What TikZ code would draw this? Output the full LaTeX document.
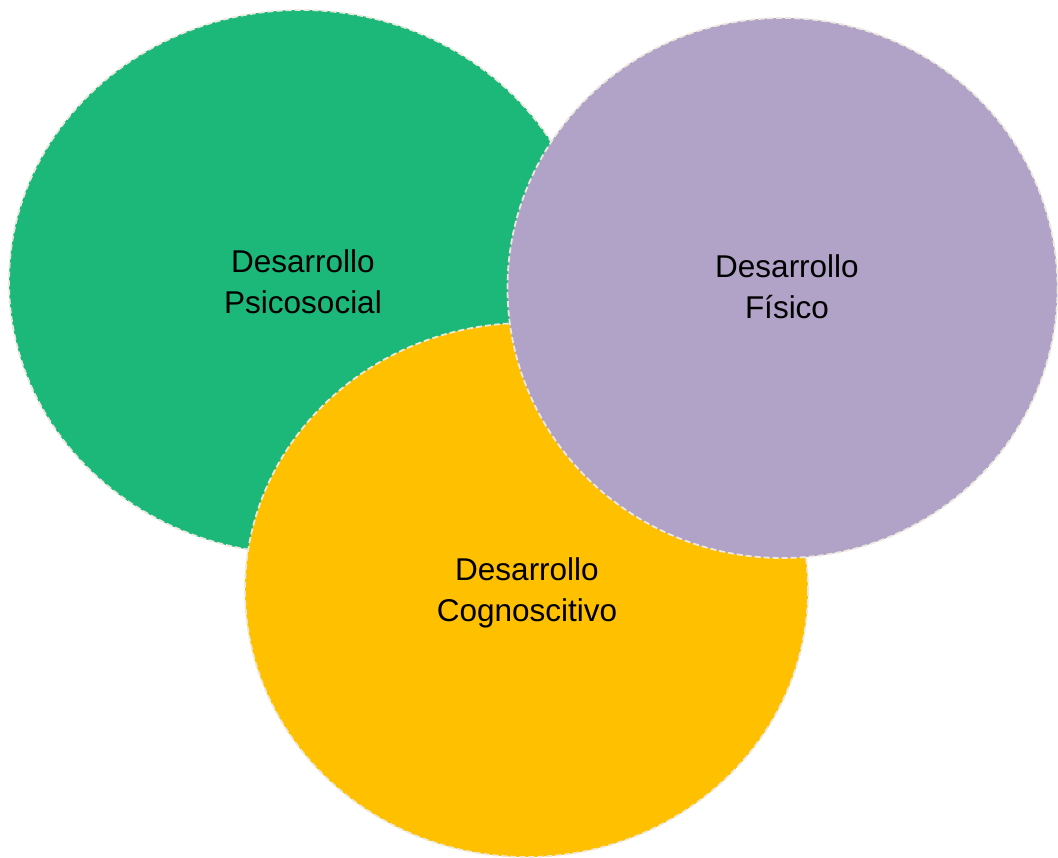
\documentclass[tikz,border=0pt]{standalone}
\usepackage{fontspec}
\setmainfont{Liberation Sans}
\definecolor{vgreen}{RGB}{27,184,122}
\definecolor{vpurple}{RGB}{177,162,199}
\definecolor{vyellow}{RGB}{255,192,0}
\definecolor{vborder}{RGB}{236,232,222}
\begin{document}
\begin{tikzpicture}[x=1pt,y=-1pt,
  blob/.style={draw=vborder,line width=1.8pt,dash pattern=on 6pt off 3pt},
  lbl/.style={align=center,font=\fontsize{31.5}{41}\selectfont,text=black,inner sep=0pt}]
\useasboundingbox (0,0) rectangle (1058,858);
\fill[white] (0,0) rectangle (1058,858);
\filldraw[blob,fill=vgreen] (301,282) ellipse [x radius=292,y radius=272];
\filldraw[blob,fill=vyellow] (526.5,590) ellipse [x radius=281.5,y radius=267];
\filldraw[blob,fill=vpurple] (782.5,288) ellipse [x radius=275,y radius=270];
\node[lbl] (psico) at (303,282) {Desarrollo\\Psicosocial};
\node[lbl] (fisico) at (787,287) {Desarrollo\\Físico};
\node[lbl] (cogno) at (527,593) {Desarrollo\\Cognoscitivo};
\end{tikzpicture}
\end{document}
